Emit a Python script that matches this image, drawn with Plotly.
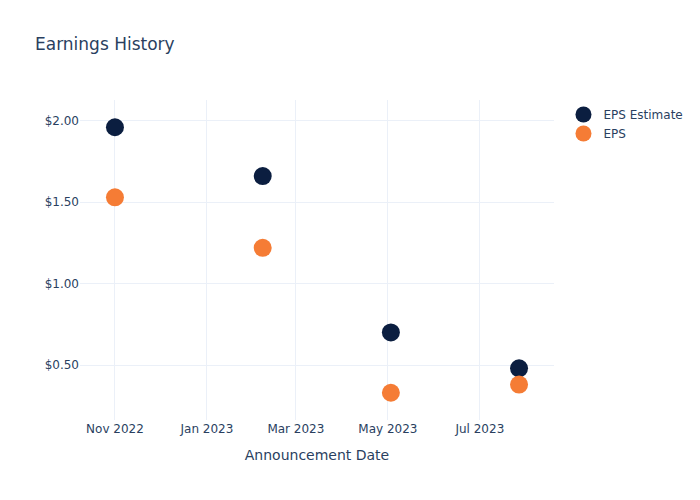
import plotly.graph_objects as go

dates = ["2022-11-01", "2023-02-07", "2023-05-03", "2023-07-27"]
eps_estimate = [1.96, 1.66, 0.70, 0.48]
eps_actual = [1.53, 1.22, 0.33, 0.38]

fig = go.Figure()
fig.add_trace(go.Scatter(x=dates, y=eps_estimate, mode="markers", name="EPS Estimate",
                         marker=dict(color="#0b1e40", size=18)))
fig.add_trace(go.Scatter(x=dates, y=eps_actual, mode="markers", name="EPS",
                         marker=dict(color="#f57c35", size=18)))
fig.update_layout(
    template="plotly_white",
    width=700, height=500,
    font=dict(family="DejaVu Sans"),
    title=dict(text="Earnings History"),
    xaxis=dict(title="Announcement Date"),
    yaxis=dict(tickprefix="$", tickformat=".2f"),
)
fig.write_html("out.html")
